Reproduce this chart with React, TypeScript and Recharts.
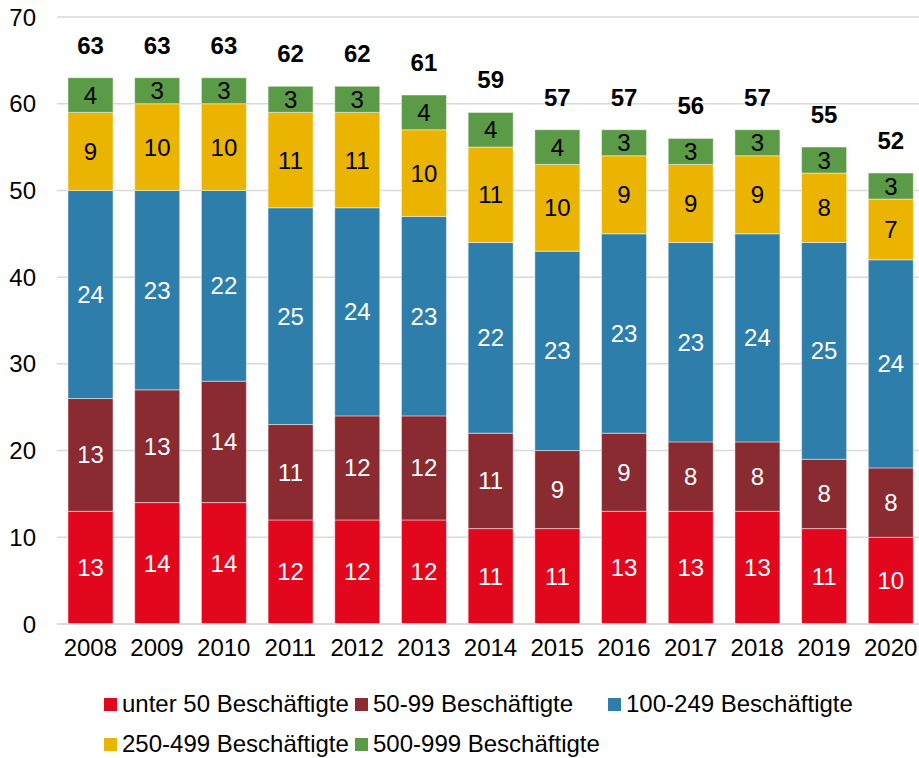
import React from 'react';
import { BarChart, Bar, XAxis, YAxis, CartesianGrid, LabelList, Legend } from 'recharts';

const years = ['2008', '2009', '2010', '2011', '2012', '2013', '2014', '2015', '2016', '2017', '2018', '2019', '2020'];

const unter50 = [13, 14, 14, 12, 12, 12, 11, 11, 13, 13, 13, 11, 10];
const von50bis99 = [13, 13, 14, 11, 12, 12, 11, 9, 9, 8, 8, 8, 8];
const von100bis249 = [24, 23, 22, 25, 24, 23, 22, 23, 23, 23, 24, 25, 24];
const von250bis499 = [9, 10, 10, 11, 11, 10, 11, 10, 9, 9, 9, 8, 7];
const von500bis999 = [4, 3, 3, 3, 3, 4, 4, 4, 3, 3, 3, 3, 3];

const yTicks = [0, 10, 20, 30, 40, 50, 60, 70];

const series = [
  { key: 'u50', name: 'unter 50 Beschäftigte', values: unter50, color: '#e3071d', text: '#ffffff' },
  { key: 'b50', name: '50-99 Beschäftigte', values: von50bis99, color: '#8a2a31', text: '#ffffff' },
  { key: 'b100', name: '100-249 Beschäftigte', values: von100bis249, color: '#2e7eab', text: '#ffffff' },
  { key: 'b250', name: '250-499 Beschäftigte', values: von250bis499, color: '#eab400', text: '#000000' },
  { key: 'b500', name: '500-999 Beschäftigte', values: von500bis999, color: '#5b9a47', text: '#000000' },
];

const data = years.map((year, i) => {
  const row: Record<string, string | number> = { year };
  let total = 0;
  series.forEach((s) => {
    row[s.key] = s.values[i];
    total += s.values[i];
  });
  row.total = total;
  return row;
});

// legend slots (left of marker, vertical centre) relative to the legend box
const legendSlots = [
  { left: 104, top: 40 },
  { left: 355, top: 40 },
  { left: 608, top: 40 },
  { left: 104, top: 80 },
  { left: 355, top: 80 },
];

const FONT = 24;

const LegendContent = () => (
  <div style={{ position: 'relative', width: 919, height: 78 }}>
    {series.map((s, i) => (
      <div
        key={s.key}
        style={{
          position: 'absolute',
          left: legendSlots[i].left,
          top: legendSlots[i].top - 15,
          height: 30,
          display: 'flex',
          alignItems: 'center',
          whiteSpace: 'nowrap',
          fontSize: FONT,
          color: '#000',
        }}
      >
        <span style={{ display: 'inline-block', width: 13, height: 13, background: s.color, marginRight: 5 }} />
        <span>{s.name}</span>
      </div>
    ))}
  </div>
);

export default function App() {
  return (
    <div
      style={{
        position: 'absolute',
        left: 0,
        top: 0,
        width: 919,
        height: 758,
        overflow: 'hidden',
        background: '#fff',
        fontFamily: '"Liberation Sans", Arial, sans-serif',
      }}
    >
      <BarChart
        width={924}
        height={758}
        data={data}
        margin={{ top: 17, right: 0, left: 0, bottom: 16 }}
      >
        <CartesianGrid vertical={false} stroke="#d9d9d9" strokeWidth={1.5} />
        <XAxis
          dataKey="year"
          height={40}
          axisLine={{ stroke: '#d9d9d9', strokeWidth: 1.5 }}
          tickLine={false}
          tickSize={0}
          tickMargin={15}
          tick={{ fill: '#000', fontSize: FONT }}
          interval={0}
        />
        <YAxis
          width={57}
          domain={[0, 70]}
          ticks={yTicks}
          axisLine={false}
          tickLine={false}
          tickSize={0}
          tickMargin={21}
          tick={{ fill: '#000', fontSize: FONT }}
        />
        <Legend
          verticalAlign="bottom"
          content={<LegendContent />}
          wrapperStyle={{ left: 0, width: 919, height: 78 }}
        />
        {series.map((s, idx) => (
          <Bar
            key={s.key}
            dataKey={s.key}
            name={s.name}
            stackId="a"
            fill={s.color}
            stroke="rgba(255,255,255,0.45)"
            strokeWidth={1}
            barSize={45}
            isAnimationActive={false}
          >
            <LabelList dataKey={s.key} position="center" fill={s.text} fontSize={FONT} />
            {idx === series.length - 1 && (
              <LabelList dataKey="total" position="top" offset={24} fill="#000" fontSize={FONT} fontWeight="bold" />
            )}
          </Bar>
        ))}
      </BarChart>
    </div>
  );
}
